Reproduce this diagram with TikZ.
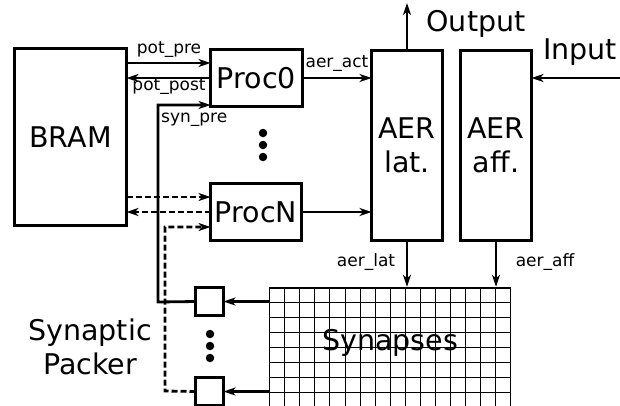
\documentclass[tikz,border=0pt]{standalone}
\usepackage{fontspec}
\setmainfont{DejaVu Sans}
\usetikzlibrary{arrows.meta}
\tikzset{
  blk/.style={draw, line width=3pt, inner sep=0pt, outer sep=0pt, font=\fontsize{28.5}{34}\selectfont, align=center},
  lbl/.style={inner sep=0pt, font=\fontsize{17}{20}\selectfont},
  big/.style={inner sep=0pt, font=\fontsize{28.5}{34}\selectfont, align=center},
  con/.style={line width=2.8pt, -{Stealth[length=12pt,width=8pt,inset=3.5pt]}},
  dsh/.style={dash pattern=on 6pt off 3pt},
  gridline/.style={line width=1pt},
  dot/.style={fill, circle, inner sep=0pt, minimum size=8.5pt}
}
\begin{document}
\begin{tikzpicture}[x=1pt,y=-1pt]
\useasboundingbox (0,0) rectangle (620,405);
\clip (0,0) rectangle (620,405);
% blocks
\node[blk, minimum width=112pt, minimum height=177pt] (bram) at (70.5,137) {BRAM};
\node[blk, minimum width=92pt, minimum height=57pt] (proc0) at (256.5,78) {Proc0};
\node[blk, minimum width=91pt, minimum height=57pt] (procN) at (256,212) {ProcN};
\node[blk, minimum width=71pt, minimum height=190pt] (aerlat) at (407,145.5) {AER\\lat.};
\node[blk, minimum width=71pt, minimum height=190pt] (aeraff) at (496,145.5) {AER\\aff.};
\node[blk, minimum width=28pt, minimum height=28pt] (pk1) at (209.5,301.5) {};
\node[blk, minimum width=28pt, minimum height=28pt] (pk2) at (209.5,391.5) {};
% synapse grid
\node[inner sep=0pt, minimum width=242pt, minimum height=140pt] (syn) at (390,357) {};
\foreach \xx in {269.5,284.5,299.5,314.5,329.5,345.5,360.5,375.5,390.5,405.5,420.5,435.5,450.5,465.5,480.5,495.5,510.5} {
  \draw[gridline] (\xx,287) -- (\xx,430);
}
\foreach \j in {1,...,9} {
  \draw[gridline] (269,287.5+\j*15) -- (511,287.5+\j*15);
}
\draw[line width=2pt] (269,288) -- (511,288);
\node[big] (syntxt) at (390,343) {Synapses};
% dots
\node[dot] (d1) at (263,133) {};
\node[dot] (d2) at (263,145) {};
\node[dot] (d3) at (263,157) {};
\node[dot] (e1) at (210,334) {};
\node[dot] (e2) at (210,346) {};
\node[dot] (e3) at (210,358) {};
% labels
\node[big] (sp) at (90,347) {Synaptic\\Packer};
\node[big] (out) at (476,24) {Output};
\node[big] (in) at (580,52) {Input};
\node[lbl] (lpre) at (169,50) {pot\_pre};
\node[lbl] (lpost) at (169,87) {pot\_post};
\node[lbl, anchor=west] (lsyn) at (161,120) {syn\_pre};
\node[lbl] (lact) at (337,64) {aer\_act};
\node[lbl] (llat) at (366,262) {aer\_lat};
\node[lbl] (laff) at (545,262) {aer\_aff};
% connectors
\coordinate (c1) at (158,302);
\coordinate (c2) at (158,105);
\coordinate (c3) at (165,391);
\coordinate (c4) at (165,227);
\coordinate (top) at (407,3);
\coordinate (inr) at (622,78);
\draw[con] (bram.east |- 0,63) -- (proc0.west |- 0,63);
\draw[con] (proc0.west |- 0,78) -- (bram.east |- 0,78);
\draw[con] (pk1.west) -- (c1) -- (c2) -- (proc0.west |- c2);
\draw[con,dsh] (bram.east |- 0,197) -- (procN.west |- 0,197);
\draw[con,dsh] (procN.west |- 0,212) -- (bram.east |- 0,212);
\draw[con,dsh] (pk2.west) -- (c3) -- (c4) -- (procN.west |- c4);
\draw[con] (proc0.east) -- (aerlat.west |- proc0.east);
\draw[con] (procN.east) -- (aerlat.west |- procN.east);
\draw[con] (aerlat.north) -- (top);
\draw[con] (inr) -- (aeraff.east |- inr);
\draw[con] (aerlat.south) -- (aerlat.south |- syn.north);
\draw[con] (aeraff.south) -- (aeraff.south |- syn.north);
\draw[con] (syn.west |- pk1.east) -- (pk1.east);
\draw[con] (syn.west |- pk2.east) -- (pk2.east);
\end{tikzpicture}
\end{document}
